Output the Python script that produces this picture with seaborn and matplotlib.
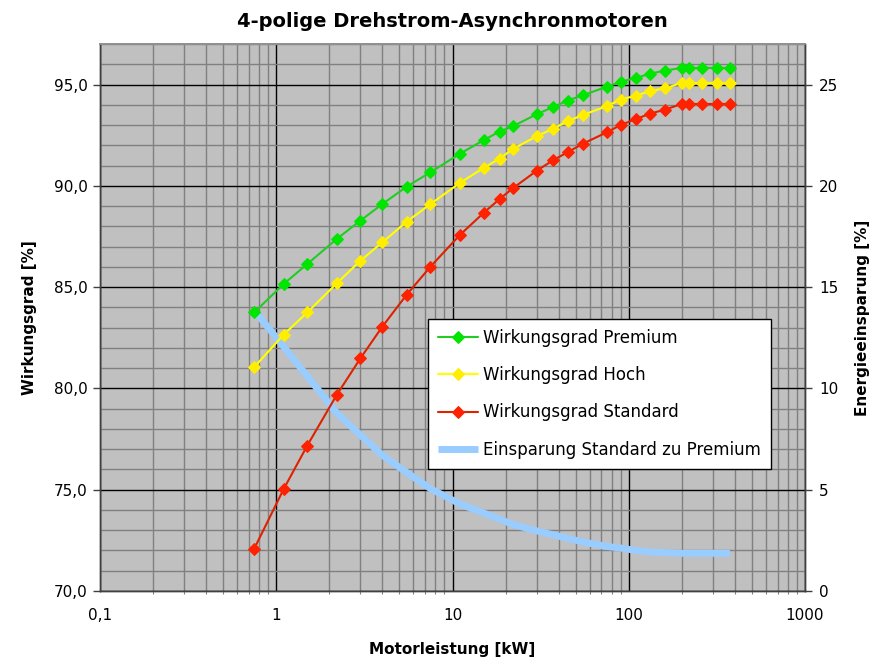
import matplotlib
matplotlib.use("Agg")
import matplotlib.pyplot as plt
import matplotlib.ticker as mticker
import numpy as np
import pandas as pd
import seaborn as sns

# ---- data ----
kw = [0.75, 1.1, 1.5, 2.2, 3, 4, 5.5, 7.5, 11, 15, 18.5, 22, 30, 37, 45, 55,
      75, 90, 110, 132, 160, 200, 220, 260, 315, 375]
premium = [83.75, 85.15, 86.14, 87.37, 88.28, 89.10, 89.96, 90.67, 91.58, 92.25,
           92.68, 92.94, 93.53, 93.88, 94.21, 94.47, 94.89, 95.13, 95.33, 95.53,
           95.69, 95.82, 95.82, 95.82, 95.82, 95.82]
hoch = [81.05, 82.65, 83.75, 85.18, 86.30, 87.21, 88.23, 89.10, 90.14, 90.88,
        91.34, 91.82, 92.44, 92.81, 93.19, 93.50, 93.93, 94.26, 94.45, 94.67,
        94.82, 95.07, 95.07, 95.07, 95.07, 95.07]
standard = [72.09, 75.02, 77.18, 79.67, 81.48, 83.05, 84.63, 86.01, 87.57, 88.66,
            89.35, 89.88, 90.74, 91.25, 91.66, 92.08, 92.64, 93.00, 93.30, 93.56,
            93.76, 94.04, 94.04, 94.04, 94.04, 94.04]
einsparung = [13.85, 12.07, 10.60, 8.80, 7.70, 6.70, 5.85, 5.05, 4.30, 3.85,
              3.55, 3.28, 2.97, 2.78, 2.60, 2.42, 2.20, 2.12, 2.00, 1.93,
              1.90, 1.86, 1.86, 1.86, 1.86, 1.86]

x_ticks = [0.1, 1, 10, 100, 1000]
x_ticklabels = ["0,1", "1", "10", "100", "1000"]
y_ticks = [70, 75, 80, 85, 90, 95]
y_ticklabels = ["70,0", "75,0", "80,0", "85,0", "90,0", "95,0"]
y2_ticks = [0, 5, 10, 15, 20, 25]
y2_ticklabels = ["0", "5", "10", "15", "20", "25"]

df = pd.DataFrame({"kW": kw, "Premium": premium, "Hoch": hoch,
                   "Standard": standard, "Einsparung": einsparung})

sns.set_theme(style="white")
plt.rcParams["font.family"] = ["DejaVu Sans"]
plt.rcParams["text.color"] = "black"
plt.rcParams["axes.labelcolor"] = "black"
plt.rcParams["xtick.color"] = "black"
plt.rcParams["ytick.color"] = "black"

fig = plt.figure(figsize=(8.72, 6.64), dpi=100)
ax = fig.add_axes([100/872, 1-591/664, 705/872, 547/664])
ax2 = ax.twinx()

# ax2 behind: gray background, grid, blue line
ax.set_zorder(2)
ax2.set_zorder(1)
ax.patch.set_visible(False)
ax2.patch.set_visible(True)
ax2.patch.set_facecolor("#c0c0c0")

sns.lineplot(data=df, x="kW", y="Einsparung", ax=ax2, color="#99ccff",
             linewidth=5, label="Einsparung Standard zu Premium",
             legend=False, solid_capstyle="butt")

series = [("Premium", "Wirkungsgrad Premium", "#22cc22", "#00e600"),
          ("Hoch", "Wirkungsgrad Hoch", "#ffff00", "#ffee00"),
          ("Standard", "Wirkungsgrad Standard", "#dd2200", "#ff2200")]
for col, lab, lc, mc in series:
    sns.lineplot(data=df, x="kW", y=col, ax=ax, color=lc, linewidth=1.5,
                 marker="D", markersize=6.5, markerfacecolor=mc,
                 markeredgecolor=mc, label=lab, legend=False)

ax.set_xscale("log")
ax2.set_xscale("log")
ax.set_xlim(0.1, 1000)
ax.set_ylim(70, 97)
ax2.set_ylim(0, 27)

ax.set_xticks(x_ticks)
ax.set_xticklabels(x_ticklabels)
ax.xaxis.set_minor_locator(mticker.LogLocator(base=10, subs=np.arange(2, 10)))
ax.xaxis.set_minor_formatter(mticker.NullFormatter())
ax.set_yticks(y_ticks)
ax.set_yticklabels(y_ticklabels)
ax2.set_yticks(y2_ticks)
ax2.set_yticklabels(y2_ticklabels)
ax2.yaxis.set_minor_locator(mticker.MultipleLocator(1))

# grid on ax2
ax2.xaxis.set_visible(True)
ax2.xaxis.set_minor_locator(mticker.LogLocator(base=10, subs=np.arange(2, 10)))
ax2.xaxis.set_minor_formatter(mticker.NullFormatter())
ax2.tick_params(axis="x", which="both", bottom=False, top=False,
                labelbottom=False, labeltop=False)
ax2.set_xlabel("")
ax2.grid(which="minor", color="#808080", linewidth=1.0)
ax2.grid(which="major", color="#000000", linewidth=1.0)
ax2.set_axisbelow(True)
ax.grid(False)

ax.tick_params(axis="both", which="major", direction="out", length=5,
               width=1, color="#404040", labelsize=11, labelcolor="black")
ax.tick_params(axis="x", which="major", pad=7)
ax.tick_params(axis="x", which="minor", direction="out", length=2.5,
               width=0.8, color="#808080", bottom=True)
ax.tick_params(axis="y", which="major", pad=4, left=True)
ax2.tick_params(axis="y", which="major", direction="out", length=5,
                width=1, color="#404040", labelsize=11, pad=5, right=True,
                labelcolor="black")
ax2.tick_params(axis="y", which="minor", right=False)

for a in (ax, ax2):
    for s in ("left", "bottom", "right"):
        a.spines[s].set_color("#404040")
        a.spines[s].set_linewidth(1)
    a.spines["top"].set_color("#909090")

ax.set_xlabel("Motorleistung [kW]", fontsize=11, fontweight="bold", labelpad=14,
              color="black")
ax.set_ylabel("Wirkungsgrad [%]", fontsize=11, fontweight="bold", labelpad=12,
              color="black")
ax2.set_ylabel("Energieeinsparung [%]", fontsize=11, fontweight="bold",
               labelpad=12, color="black")
ax.set_title("4-polige Drehstrom-Asynchronmotoren", fontsize=14,
             fontweight="bold", pad=12, color="black")

h1, l1 = ax.get_legend_handles_labels()
h2, l2 = ax2.get_legend_handles_labels()
leg = ax.legend(h1 + h2, l1 + l2, loc="upper left",
                bbox_to_anchor=(0.465, 0.497), borderaxespad=0,
                fontsize=12, frameon=True, fancybox=False, shadow=False,
                handlelength=2.4, labelspacing=1.15, borderpad=0.6,
                handletextpad=0.3, framealpha=1)
leg.get_frame().set_edgecolor("black")
leg.get_frame().set_linewidth(1)
leg.get_frame().set_facecolor("white")
for t in leg.get_texts():
    t.set_color("black")

fig.savefig("out.png", dpi=100, facecolor="white")
